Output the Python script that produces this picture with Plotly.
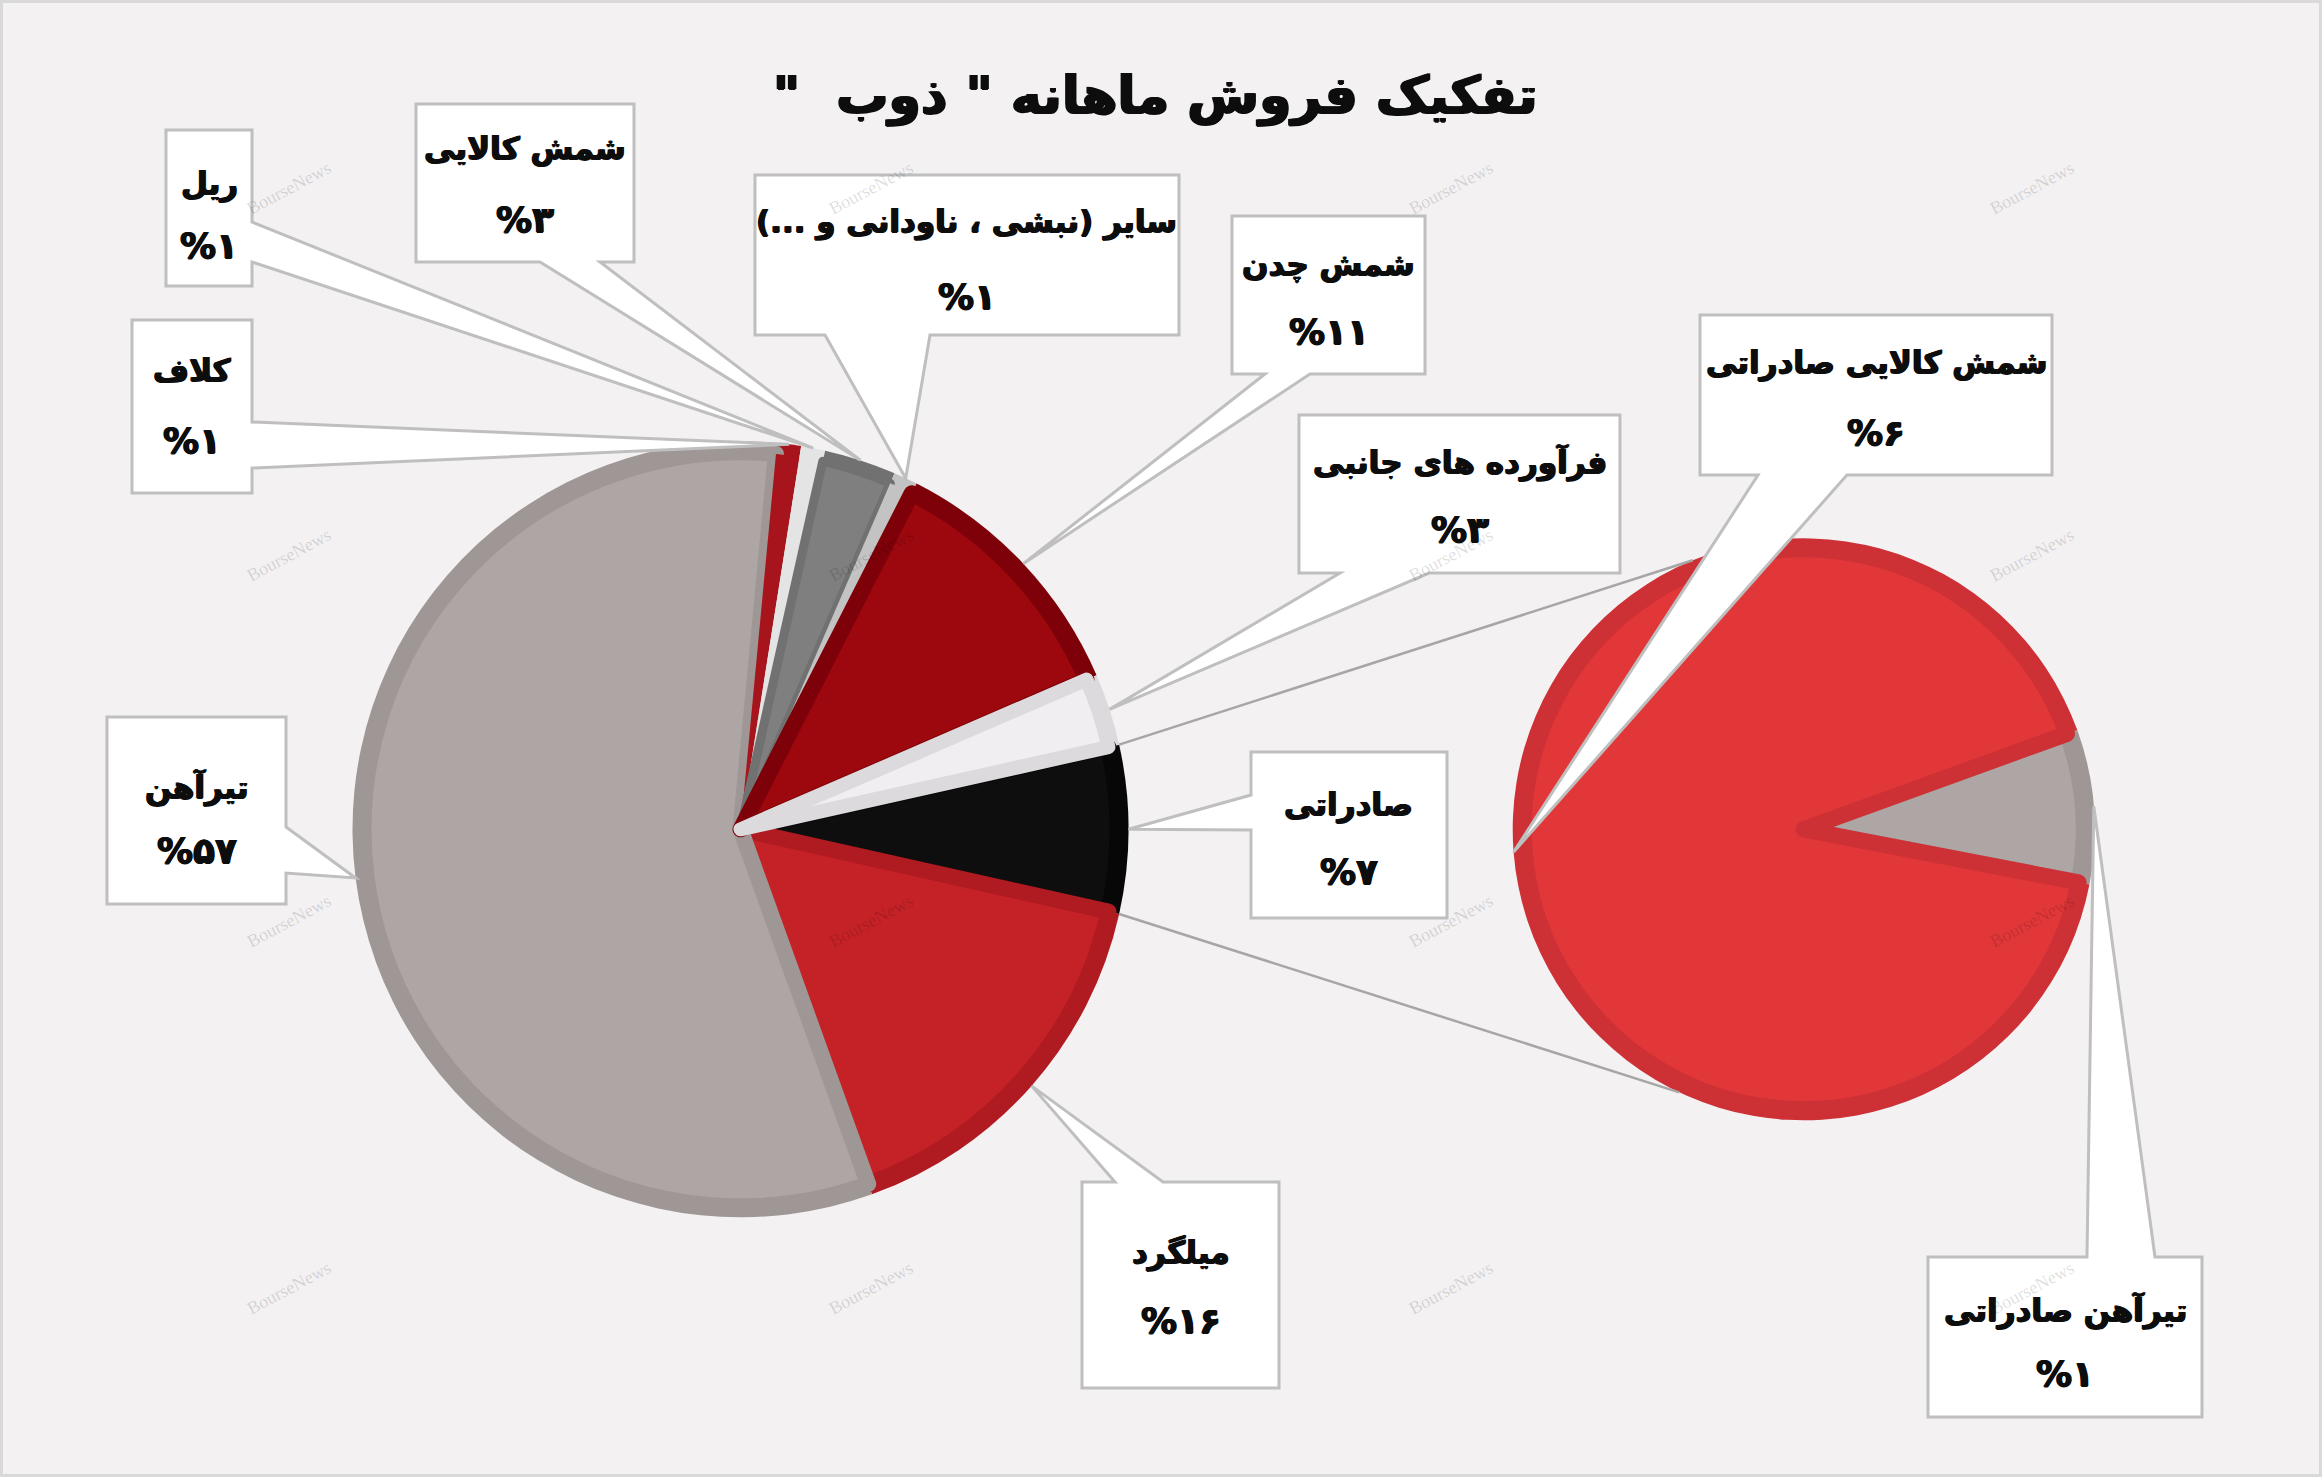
import math
import plotly.graph_objects as go

W, H = 2322, 1477

# ---------------- data ----------------
main_labels = ["صادراتی", "میلگرد", "تیرآهن", "کلاف", "ریل", "شمش کالایی",
               "سایر (نبشی ، ناودانی و ...)", "شمش چدن", "فرآورده های جانبی"]
main_values = [7, 16, 57, 1, 1, 3, 1, 11, 3]
sub_labels = ["تیرآهن صادراتی", "شمش کالایی صادراتی"]
sub_values = [0.6, 6.4]
title_text = 'تفکیک فروش ماهانه " ذوب  "'
watermark = "BourseNews"

# ---------------- styles / layout ----------------
BG = "#f3f1f2"
main_ring = ["#070707", "#b01b21", "#9f9795", "#a8141b", "#e4e4e4", "#717171",
             "#c3c3c3", "#7e0008", "#dcdadc"]
main_fill = ["#0e0e0e", "#c52228", "#ada6a4", "#a8141b", "#e4e4e4", "#7f7f7f",
             "#c3c3c3", "#9c080e", "#f0eef0"]
main_lw = [16, 16, 16, 0, 0, 9, 0, 16, 14]
sub_ring = ["#9f9795", "#cd3035"]
sub_fill = ["#ada6a4", "#e13739"]
sub_lw = [16, 16]

MAIN_C, MAIN_R = (740.5, 829.3), 388
SUB_C, SUB_R = (1803.7, 829.3), 291
RING = 11

tot_main = sum(main_values)
tot_sub = sum(sub_values)
MAIN_ROT = 90 - main_values[0] / tot_main * 180     # "other" slice centred at 3 o'clock
SUB_ROT = 85.5 - sub_values[0] / tot_sub * 180


def dom(c, r):
    return dict(x=[(c[0] - r) / W, (c[0] + r) / W],
                y=[1 - (c[1] + r) / H, 1 - (c[1] - r) / H])


def mid_angle(values, i, rot):
    tot = sum(values)
    start = rot + sum(values[:i]) / tot * 360
    return start + values[i] / tot * 180


def edge_pt(c, r, ang):
    a = math.radians(ang)
    return (c[0] + r * math.sin(a), c[1] - r * math.cos(a))


def fa_digits(n):
    return str(n).translate(str.maketrans("0123456789", "۰۱۲۳۴۵۶۷۸۹"))


RLM = "\u200f"


def rtl(s):
    return RLM + s + RLM


def px(x):
    return x / W


def py(y):
    return 1 - y / H


fig = go.Figure()

for c, r, vals, labs, rot, ring, fill, lw in [
    (MAIN_C, MAIN_R, main_values, main_labels, MAIN_ROT, main_ring, main_fill, main_lw),
    (SUB_C, SUB_R, sub_values, sub_labels, SUB_ROT, sub_ring, sub_fill, sub_lw),
]:
    fig.add_trace(go.Pie(values=vals, labels=labs, domain=dom(c, r), rotation=rot,
                         direction="clockwise", sort=False, textinfo="none",
                         marker=dict(colors=ring, line=dict(width=0)),
                         showlegend=False, hoverinfo="label+value"))
    fig.add_trace(go.Pie(values=vals, labels=labs, domain=dom(c, r - RING), rotation=rot,
                         direction="clockwise", sort=False, textinfo="none",
                         marker=dict(colors=fill, line=dict(color=ring, width=lw)),
                         showlegend=False, hoverinfo="label+value"))

shapes = []
# outer frame
shapes.append(dict(type="rect", xref="paper", yref="paper", x0=px(1.5), x1=px(W - 1.5),
                   y0=py(H - 1.5), y1=py(1.5), line=dict(color="#d9d9d9", width=3),
                   fillcolor="rgba(0,0,0,0)", layer="above"))

# connector lines main "other" slice -> secondary pie
a_top = MAIN_ROT
a_bot = MAIN_ROT + main_values[0] / tot_main * 360
for am, asub in [(a_top, 337.6), (a_bot, 205.3)]:
    p1 = edge_pt(MAIN_C, MAIN_R, am)
    p2 = edge_pt(SUB_C, SUB_R, asub)
    shapes.append(dict(type="line", xref="paper", yref="paper",
                       x0=px(p1[0]), y0=py(p1[1]), x1=px(p2[0]), y1=py(p2[1]),
                       line=dict(color="#a6a6a6", width=2.5), layer="above"))

# callout layout: box (x0,y0,x1,y1), pointer side, pointer base 1 & 2, name y, pct y
callouts = {
    "ریل": ((166, 130, 252, 286), "right", 222, 262, 184, 245),
    "کلاف": ((132, 320, 252, 493), "right", 422, 468, 370, 441),
    "شمش کالایی": ((416, 104, 634, 262), "bottom", 540, 600, 148, 219),
    "سایر (نبشی ، ناودانی و ...)": ((755, 175, 1179, 335), "bottom", 825, 930, 222, 296),
    "شمش چدن": ((1232, 216, 1425, 374), "bottom", 1265, 1310, 264, 331),
    "فرآورده های جانبی": ((1299, 415, 1620, 573), "bottom", 1340, 1429, 462, 529),
    "صادراتی": ((1251, 752, 1447, 918), "left", 795, 830, 804, 871),
    "میلگرد": ((1082, 1182, 1279, 1388), "top", 1115, 1163, 1252, 1320),
    "تیرآهن": ((107, 717, 286, 904), "right", 827, 873, 787, 850),
    "شمش کالایی صادراتی": ((1700, 315, 2052, 475), "bottom", 1758, 1847, 363, 432),
    "تیرآهن صادراتی": ((1928, 1257, 2202, 1417), "top", 2087, 2155, 1310, 1373),
}


def callout_path(box, side, b1, b2, tip):
    x0, y0, x1, y1 = box
    if side == "right":
        pts = [(x0, y0), (x1, y0), (x1, b1), tip, (x1, b2), (x1, y1), (x0, y1)]
    elif side == "left":
        pts = [(x0, y0), (x1, y0), (x1, y1), (x0, y1), (x0, b2), tip, (x0, b1)]
    elif side == "bottom":
        pts = [(x0, y0), (x1, y0), (x1, y1), (b2, y1), tip, (b1, y1), (x0, y1)]
    else:
        pts = [(x0, y0), (b1, y0), tip, (b2, y0), (x1, y0), (x1, y1), (x0, y1)]
    return "M " + " L ".join(f"{px(x):.5f},{py(y):.5f}" for x, y in pts) + " Z"


annotations = []
SHADOW = "0.8px 0px 0px #0d0d0d, -0.8px 0px 0px #0d0d0d, 0px 0.8px 0px #0d0d0d"
NAME_FONT = dict(family="DejaVu Sans", size=31, color="#0d0d0d", shadow=SHADOW)
PCT_FONT = dict(family="DejaVu Sans", size=36, color="#0d0d0d", shadow=SHADOW)

items = []
for i, lab in enumerate(main_labels):
    tip = edge_pt(MAIN_C, MAIN_R, mid_angle(main_values, i, MAIN_ROT))
    items.append((lab, main_values[i] / tot_main * 100, tip))
for i, lab in enumerate(sub_labels):
    tip = edge_pt(SUB_C, SUB_R, mid_angle(sub_values, i, SUB_ROT))
    items.append((lab, sub_values[i], tip))

for lab, pct, tip in items:
    box, side, b1, b2, ny, pyy = callouts[lab]
    shapes.append(dict(type="path", xref="paper", yref="paper",
                       path=callout_path(box, side, b1, b2, tip),
                       fillcolor="#ffffff", line=dict(color="#bfbfbf", width=3), layer="above"))
    cx = (box[0] + box[2]) / 2
    annotations.append(dict(text="<b>" + rtl(lab) + "</b>", x=px(cx), y=py(ny), xref="paper",
                            yref="paper", showarrow=False, xanchor="center", yanchor="middle",
                            font=NAME_FONT))
    annotations.append(dict(text="<b>%" + fa_digits(int(round(pct))) + "</b>", x=px(cx), y=py(pyy),
                            xref="paper", yref="paper", showarrow=False, xanchor="center",
                            yanchor="middle", font=PCT_FONT))

# title
annotations.append(dict(text="<b>" + rtl(title_text) + "</b>", x=px(1155), y=py(96), xref="paper",
                        yref="paper", showarrow=False, xanchor="center", yanchor="middle",
                        font=dict(family="DejaVu Sans", size=52, color="#0d0d0d",
                                  shadow="1.2px 0px 0px #0d0d0d, -1.2px 0px 0px #0d0d0d, 0px 1.2px 0px #0d0d0d")))

# watermarks
for wx in [289, 871, 1451, 2032]:
    for wy in [188, 555, 921, 1288]:
        annotations.append(dict(text=watermark, x=px(wx), y=py(wy), xref="paper",
                                yref="paper", showarrow=False, textangle=-28,
                                xanchor="center", yanchor="middle",
                                font=dict(family="Liberation Serif", size=18,
                                          color="rgba(0,0,0,0.14)")))

fig.update_layout(width=W, height=H, margin=dict(l=0, r=0, t=0, b=0),
                  paper_bgcolor=BG, plot_bgcolor=BG, shapes=shapes, annotations=annotations,
                  showlegend=False)

fig.write_html("out.html", config={"displayModeBar": False},
               post_script="document.body.style.margin='0';")
